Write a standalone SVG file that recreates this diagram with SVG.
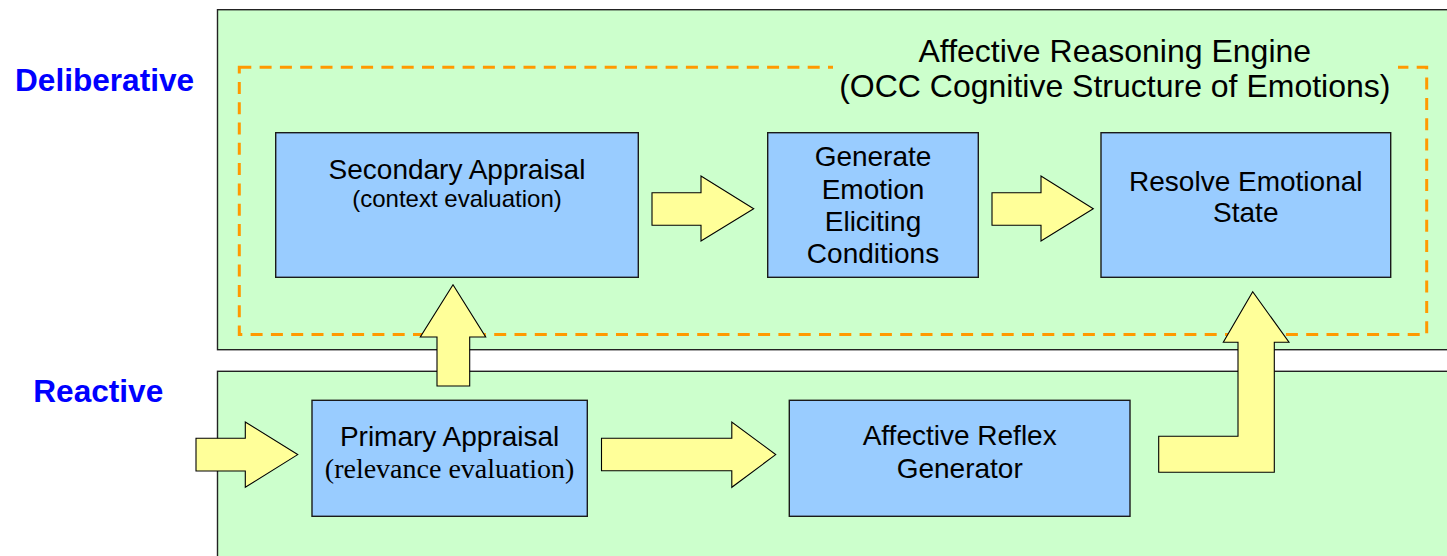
<svg xmlns="http://www.w3.org/2000/svg" width="1447" height="556" viewBox="0 0 1447 556">
<style>
.panel{fill:#CCFFCC;stroke:#222;stroke-width:1.4}
.box{fill:#99CCFF;stroke:#1a1a1a;stroke-width:1.4}
.arrow{fill:#FFFF99;stroke:#000;stroke-width:1.1;stroke-linejoin:miter}
.dash{fill:none;stroke:#FF9900;stroke-width:3;stroke-dasharray:12 8.3}
.t{font-family:"Liberation Sans",Arial,sans-serif;font-size:28px;fill:#000;text-anchor:middle}
.sub{font-size:24px}
.serif{font-family:"Liberation Serif","Times New Roman",serif;font-size:28px}
.layer{font-family:"Liberation Sans",Arial,sans-serif;font-weight:bold;font-size:31.6px;fill:#0000FF}
.title{font-family:"Liberation Sans",Arial,sans-serif;font-size:32px;fill:#000;text-anchor:middle}
</style>
<rect width="1447" height="556" fill="#FFFFFF"/>
<g id="deliberative-layer">
<rect class="panel" x="217.5" y="9.7" width="1260" height="340"/>
<text class="layer" x="15" y="90.7">Deliberative</text>
</g>
<g id="reactive-layer">
<rect class="panel" x="217.5" y="371.3" width="1260" height="220"/>
<text class="layer" x="33.3" y="401.7">Reactive</text>
</g>
<g id="affective-reasoning-engine">
<rect class="dash" x="239.3" y="67.3" width="1187.4" height="267.2"/>
<rect x="833" y="36" width="565" height="70" fill="#CCFFCC"/>
<text class="title" x="1114.8" y="61.5">Affective Reasoning Engine</text>
<text class="title" x="1114.8" y="97">(OCC Cognitive Structure of Emotions)</text>
</g>
<g id="secondary-appraisal">
<rect class="box" x="275.7" y="132.7" width="362.6" height="144.6"/>
<text class="t" x="457" y="179">Secondary Appraisal</text>
<text class="t sub" x="457" y="206.7">(context evaluation)</text>
</g>
<g id="generate-conditions">
<rect class="box" x="767.7" y="132.7" width="210.6" height="144.6"/>
<text class="t" x="873" y="166">Generate</text>
<text class="t" x="873" y="198.7">Emotion</text>
<text class="t" x="873" y="230.7">Eliciting</text>
<text class="t" x="873" y="262.7">Conditions</text>
</g>
<g id="resolve-state">
<rect class="box" x="1101" y="132.7" width="289.7" height="144.6"/>
<text class="t" x="1245.8" y="190.7">Resolve Emotional</text>
<text class="t" x="1245.8" y="221.7">State</text>
</g>
<g id="primary-appraisal">
<rect class="box" x="312" y="400.3" width="275.3" height="116"/>
<text class="t" x="449.6" y="445.7">Primary Appraisal</text>
<text class="t serif" x="449.6" y="478">(relevance evaluation)</text>
</g>
<g id="affective-reflex">
<rect class="box" x="789.3" y="400.3" width="340.7" height="116"/>
<text class="t" x="959.7" y="445">Affective Reflex</text>
<text class="t" x="959.7" y="478.3">Generator</text>
</g>
<g id="connectors">
<polygon class="arrow" points="196,438.3 245.3,438.3 245.3,422 297.7,454.6 245.3,487.3 245.3,471 196,471"/>
<polygon class="arrow" points="601.5,438.3 731.8,438.3 731.8,422 775.7,454.6 731.8,487.3 731.8,470.8 601.5,470.8"/>
<polygon class="arrow" points="652,192.7 701,192.7 701,176 753.7,208.7 701,241 701,225.3 652,225.3"/>
<polygon class="arrow" points="992,192.7 1041,192.7 1041,176 1093.3,208.7 1041,241 1041,225.3 992,225.3"/>
<polygon class="arrow" points="437,386 437,337 420.3,337 453,284.7 485.7,337 469.7,337 469.7,386"/>
<polygon class="arrow" points="1158.7,436.3 1238,436.3 1238,342.3 1223.3,342.3 1252.7,291.7 1289,342.3 1274.3,342.3 1274.3,472.3 1158.7,472.3"/>
</g>
</svg>
